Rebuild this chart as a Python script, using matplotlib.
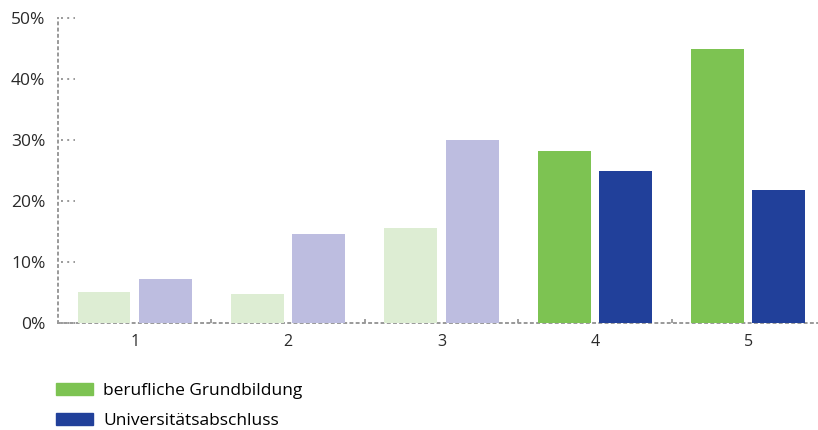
import numpy as np
import matplotlib.pyplot as plt
import matplotlib.transforms as mtransforms
from matplotlib.patches import Patch

categories = ["1", "2", "3", "4", "5"]
berufliche = [5.1, 4.8, 15.6, 28.2, 44.9]
universitaet = [7.2, 14.6, 30.0, 24.9, 21.8]
y_ticks = [0, 10, 20, 30, 40, 50]
series_names = ["berufliche Grundbildung", "Universitätsabschluss"]

# first three groups are drawn faded
green = "#7DC352"
blue = "#21409A"
green_light = "#DDEDD3"
blue_light = "#BDBDE0"
faded = [True, True, True, False, False]

plt.rcParams["font.family"] = ["Open Sans", "DejaVu Sans"]

fig = plt.figure(figsize=(8.18, 4.30), dpi=100)
ax = fig.add_axes([58 / 818, 107 / 430, 760 / 818, 305 / 430])

x = np.arange(1, len(categories) + 1)
w = 0.345
off = 0.2
c1 = [green_light if f else green for f in faded]
c2 = [blue_light if f else blue for f in faded]
ax.bar(x - off, berufliche, w, color=c1, zorder=3)
ax.bar(x + off, universitaet, w, color=c2, zorder=3)

ax.set_xlim(0.5, 5.455)
ax.set_ylim(0, 50)
ax.set_yticks(y_ticks)
ax.set_yticklabels(["{}%".format(v) for v in y_ticks], fontsize=12.5, color="#2a2a2a")
ax.set_xticks(x)
ax.set_xticklabels(categories, fontsize=11.5, color="#2a2a2a")
ax.set_xticks(x[:-1] + 0.5, minor=True)

for s in ["top", "right"]:
    ax.spines[s].set_visible(False)
for s in ["left", "bottom"]:
    ax.spines[s].set_color("#999999")
    ax.spines[s].set_linestyle((0, (1, 2.2)))
    ax.spines[s].set_linewidth(1.4)
    ax.spines[s].set_clip_on(False)

# dotted tick marks next to the y axis
trans = mtransforms.blended_transform_factory(ax.transAxes, ax.transData)
for v in y_ticks:
    ax.plot([0.004, 0.022], [v, v], transform=trans, color="#999999",
            linestyle=(0, (1, 2.2)), linewidth=1.4, clip_on=False, zorder=1)

ax.tick_params(axis="y", length=0, pad=9)
ax.tick_params(axis="x", which="major", length=0, pad=8)
ax.tick_params(axis="x", which="minor", direction="in", length=3, color="#999999", width=1.3)

handles = [Patch(color=green), Patch(color=blue)]
fig.legend(handles, series_names, loc="upper left", bbox_to_anchor=(0.069, 0.109),
           frameon=False, fontsize=12.5, handlelength=2.1, handleheight=0.7,
           handletextpad=0.6, labelspacing=0.8, borderpad=0, borderaxespad=0)

fig.savefig("out.png", dpi=100)
